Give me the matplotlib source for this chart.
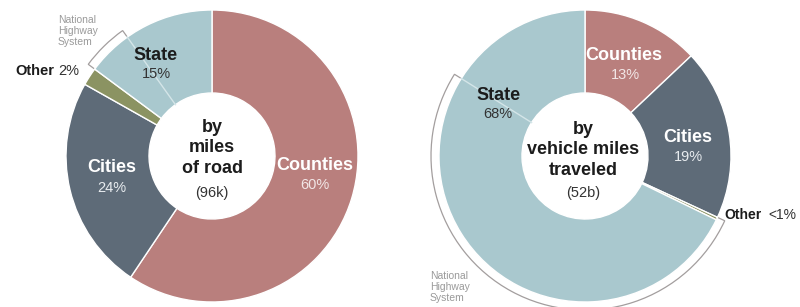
import matplotlib.pyplot as plt
from matplotlib.patches import Wedge
import numpy as np

# shares in %, clockwise from 12 o'clock
parts = ["Counties", "Cities", "Other", "State"]
miles_pct = [60, 24, 2, 15]          # by miles of road (96k)
vmt_pct = [13, 19, 0.3, 68]          # by vehicle miles traveled (52b)
miles_lbl = ["60%", "24%", "2%", "15%"]
vmt_lbl = ["13%", "19%", "<1%", "68%"]
nhs_miles = 5     # part of total (state roads) on the National Highway System
nhs_vmt = 52

COLORS = ["#b97f7d", "#5e6b78", "#8b9362", "#a9c8ce"]
H = 307
R, HOLE = 146, 63

plt.rcParams['font.family'] = ['Liberation Sans', 'DejaVu Sans']

fig = plt.figure(figsize=(8, 3.07), dpi=100)
ax = fig.add_axes([0, 0, 1, 1])


def txt(x, y, s, **kw):
    kw.setdefault('ha', 'center')
    kw.setdefault('va', 'center')
    ax.text(x, H - y, s, **kw)


def donut(cx, cy, vals):
    ax.pie(vals, colors=COLORS, startangle=90, counterclock=False,
           radius=R, center=(cx, H - cy),
           wedgeprops=dict(width=R - HOLE, edgecolor='white', linewidth=1, zorder=2))


def bracket(cx, cy, a1, a2):
    # angles clockwise from top -> matplotlib degrees
    w = Wedge((cx, H - cy), R + 8, 90 - a2, 90 - a1, width=9,
              facecolor='white', edgecolor='#a39e9e', linewidth=0.9, zorder=1)
    ax.add_patch(w)
    t = np.deg2rad(90 - a2)
    ax.plot([cx + HOLE * np.cos(t), cx + R * np.cos(t)],
            [H - cy + HOLE * np.sin(t), H - cy + R * np.sin(t)],
            color='#d4e5e8', lw=1, zorder=3)


# left donut
lcx, lcy = 212, 156
donut(lcx, lcy, miles_pct)
cum = np.cumsum(miles_pct) / sum(miles_pct) * 360
bracket(lcx, lcy, cum[2], cum[2] + nhs_miles * 3.6)

# right donut
rcx, rcy = 585, 156
donut(rcx, rcy, vmt_pct)
cum = np.cumsum(vmt_pct) / sum(vmt_pct) * 360
bracket(rcx, rcy, cum[1], cum[1] + nhs_vmt * 3.6)

ax.set_xlim(0, 800)
ax.set_ylim(0, H)
ax.set_aspect('equal')
ax.axis('off')

BIG = 13
SM = 10.5
dark = '#1c1c1c'

# left labels
txt(315, 166, parts[0], fontsize=BIG, fontweight='bold', color='white')
txt(315, 185, miles_lbl[0], fontsize=SM, color='#f2e6e6')
txt(112, 168, parts[1], fontsize=BIG, fontweight='bold', color='white')
txt(112, 188, miles_lbl[1], fontsize=SM, color='#e8ecef')
txt(156, 55, parts[3], fontsize=BIG, fontweight='bold', color=dark)
txt(156, 74, miles_lbl[3], fontsize=SM, color='#333333')
txt(15, 71, parts[2], ha='left', fontsize=10.5, fontweight='bold', color=dark)
txt(79, 71, miles_lbl[2], ha='right', fontsize=10.5, color='#333333')
txt(lcx, 148, "by\nmiles\nof road", fontsize=BIG, fontweight='bold', color=dark,
    linespacing=1.3)
txt(lcx, 193, "(96k)", fontsize=SM, color='#333333')
txt(58, 31, "National\nHighway\nSystem", ha='left', fontsize=7.5, color='#9a9a9a',
    linespacing=1.15)

# right labels
txt(624, 55, parts[0], fontsize=BIG, fontweight='bold', color='white')
txt(625, 75, vmt_lbl[0], fontsize=SM, color='#f2e6e6')
txt(688, 137, parts[1], fontsize=BIG, fontweight='bold', color='white')
txt(688, 157, vmt_lbl[1], fontsize=SM, color='#e8ecef')
txt(499, 96, parts[3], fontsize=BIG, fontweight='bold', color=dark)
txt(498, 114, vmt_lbl[3], fontsize=SM, color='#333333')
txt(724, 215, parts[2], ha='left', fontsize=10, fontweight='bold', color=dark)
txt(796, 215, vmt_lbl[2], ha='right', fontsize=10, color='#333333')
txt(rcx - 2, 150, "by\nvehicle miles\ntraveled", fontsize=BIG, fontweight='bold',
    color=dark, linespacing=1.3)
txt(rcx - 2, 193, "(52b)", fontsize=SM, color='#333333')
txt(430, 287, "National\nHighway\nSystem", ha='left', fontsize=7.5, color='#9a9a9a',
    linespacing=1.15)

fig.savefig("out.png", dpi=100)
